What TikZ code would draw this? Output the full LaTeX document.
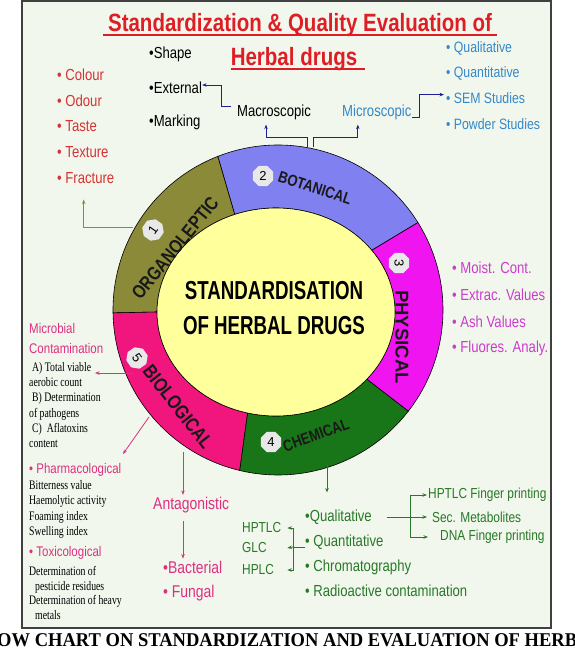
\documentclass[tikz,border=0pt]{standalone}
\usepackage{fontspec}
\setmainfont{Liberation Sans}
\newfontfamily\narrowsf[FakeStretch=0.82]{Liberation Sans}
\newfontfamily\condsf[FakeStretch=0.72]{Liberation Sans}
\newfontfamily\narrowrm[FakeStretch=0.75]{Liberation Serif}
\newfontfamily\capfont[FakeStretch=0.95]{Liberation Serif}
\usetikzlibrary{arrows.meta,shapes.geometric,positioning,calc}

\definecolor{paper}{RGB}{241,247,237}
\definecolor{titlered}{RGB}{222,30,36}
\definecolor{orgred}{RGB}{212,52,52}
\definecolor{microblue}{RGB}{52,136,200}
\definecolor{navyline}{RGB}{30,30,150}
\definecolor{physpink}{RGB}{204,60,204}
\definecolor{biopink}{RGB}{222,48,128}
\definecolor{chemgreen}{RGB}{40,120,40}
\definecolor{olivering}{RGB}{138,138,56}
\definecolor{bluering}{RGB}{128,128,240}
\definecolor{magring}{RGB}{240,20,240}
\definecolor{greenring}{RGB}{24,118,24}
\definecolor{pinkring}{RGB}{240,22,126}
\definecolor{coreyellow}{RGB}{255,255,155}
\definecolor{badgegray}{RGB}{232,232,232}

% one coloured piece of the ring: colour, outer start/end, inner start/end
\newcommand{\ringsector}[5]{%
  \filldraw[fill=#1, draw=black, line width=0.6pt]
    ($(O)+(#2:165)$) arc[start angle=#2, end angle=#3, radius=165]
    -- ($(I)+(#4:119 and 104)$) arc[start angle=#4, end angle=#5, x radius=119, y radius=104]
    -- cycle;}

\tikzset{
  lbl/.style={inner sep=0pt, anchor=west, font=\narrowsf\fontsize{16}{18}\selectfont},
  blacklbl/.style={lbl, text=black},
  redlbl/.style={lbl, text=orgred},
  bluelbl/.style={lbl, text=microblue, font=\narrowsf\fontsize{15}{18}\selectfont},
  physlbl/.style={lbl, text=physpink},
  pinklbl/.style={lbl, text=biopink, align=left, font=\narrowsf\fontsize{14}{20}\selectfont},
  pinkbig/.style={lbl, text=biopink, font=\narrowsf\fontsize{17}{20}\selectfont},
  greenlbl/.style={lbl, text=chemgreen},
  smallgreen/.style={lbl, text=chemgreen, font=\narrowsf\fontsize{14.5}{18}\selectfont},
  seriflbl/.style={inner sep=0pt, anchor=west, align=left, font=\narrowrm\fontsize{13}{15.3}\selectfont},
  titlelbl/.style={inner sep=0pt, anchor=base, text=titlered, font=\narrowsf\bfseries\fontsize{25}{28}\selectfont},
  ringlbl/.style={inner sep=0pt, text=black!90},
  badge/.style={regular polygon, regular polygon sides=8, fill=badgegray, inner sep=0pt,
                minimum size=22pt, font=\fontsize{13}{14}\selectfont},
  arr/.style={-{Stealth[length=4.5pt,width=3.5pt]}, line width=0.8pt},
  navyarr/.style={arr, draw=navyline},
  olivearr/.style={arr, draw=olivering},
  pinkarr/.style={arr, draw=biopink},
  greenarr/.style={arr, draw=chemgreen},
  greenline/.style={line width=0.8pt, draw=chemgreen}
}

\begin{document}
\begin{tikzpicture}[x=1pt,y=1pt]
\useasboundingbox (0,0) rectangle (574,-653);
\clip (0,0) rectangle (574,-653);
\fill[white] (0,0) rectangle (574,-653);
\draw[fill=paper, draw=black!75, line width=1.2pt] (22,-1) rectangle (551,-628);

% title
\node[titlelbl] (title1) at (300,-31) {Standardization \& Quality Evaluation of};
\node[titlelbl] (title2) at (294,-65) {Herbal drugs};
\draw[titlered, line width=1.6pt] ([xshift=-5pt,yshift=-4pt]title1.base west) -- ([xshift=5pt,yshift=-4pt]title1.base east);
\draw[titlered, line width=1.6pt] ([yshift=-4pt]title2.base west) -- ([xshift=8pt,yshift=-4pt]title2.base east);

% ring
\coordinate (O) at (278,-310);
\coordinate (I) at (276,-312);
\ringsector{bluering}{32}{111.4}{110.3}{36.4}
\ringsector{olivering}{111.4}{181}{180}{110.3}
\ringsector{pinkring}{181}{256.6}{256.2}{180}
\ringsector{greenring}{256.6}{322.2}{319.8}{256.2}
\ringsector{magring}{-37.8}{32}{36.4}{-40.2}
\filldraw[fill=coreyellow, draw=black, line width=0.6pt] (I) ellipse[x radius=119, y radius=104];

\node[align=center, font=\condsf\bfseries\fontsize{26}{35}\selectfont] (core) at (274,-308)
  {STANDARDISATION\\OF HERBAL DRUGS};

\node[ringlbl, rotate=51, font=\narrowsf\bfseries\fontsize{19}{20}\selectfont] (lblorg) at (175,-248) {ORGANOLEPTIC};
\node[ringlbl, rotate=-18, font=\narrowsf\bfseries\fontsize{16}{20}\selectfont] (lblbot) at (315,-188) {BOTANICAL};
\node[ringlbl, rotate=-90, font=\bfseries\fontsize{18.5}{20}\selectfont] (lblphy) at (402,-337) {PHYSICAL};
\node[ringlbl, rotate=20, font=\narrowsf\bfseries\fontsize{16}{20}\selectfont] (lblchem) at (316,-435) {CHEMICAL};
\node[ringlbl, rotate=-52, font=\narrowsf\bfseries\fontsize{19.5}{20}\selectfont] (lblbio) at (178,-407) {BIOLOGICAL};

\node[badge, rotate=55] (b1) at (153,-230) {1};
\node[badge] (b2) at (263,-176) {2};
\node[badge, rotate=-90] (b3) at (399,-263) {3};
\node[badge] (b4) at (271,-442) {4};
\node[badge, rotate=-55] (b5) at (137,-358) {5};

% botanical
\foreach \t/\n [count=\i] in {Shape/shape, External/external, Marking/marking}
  \node[blacklbl] (\n) at (149,{-54-34*(\i-1)}) {•\t};
\node[blacklbl] (macro) at (237,-112) {Macroscopic};
\node[bluelbl, font=\narrowsf\fontsize{16}{18}\selectfont] (micro) at (342,-112) {Microscopic};
\foreach \t/\n [count=\i] in {Qualitative/qual, Quantitative/quant, SEM Studies/sem, Powder Studies/powder}
  \node[bluelbl] (mic\n) at (446,{-48-25.3*(\i-1)}) {• \t};

\coordinate (botL) at (307,-147);
\coordinate (botR) at (313,-147);
\draw[navyarr] (botL) -- ++(0,10) -| ([xshift=-8pt,yshift=-5pt]macro.south);
\draw[navyarr] (botR) -- ++(0,10) -| ([xshift=-19pt,yshift=-5pt]micro.south);
\draw[navyarr] ([xshift=-6pt,yshift=6pt]macro.west) -- ++(-10,0) |- ([yshift=3pt]external.east);
\draw[navyarr] ([yshift=-5pt]micro.east) -- ++(8,0) |- ([xshift=-2pt,yshift=4pt]micsem.west);

% organoleptic
\foreach \t [count=\i] in {Colour, Odour, Taste, Texture, Fracture}
  \node[redlbl] (org\i) at (57,{-75-25.7*(\i-1)}) {• \t};
\coordinate (orgfoot) at (133,-227);
\draw[olivearr] (orgfoot) -| ([xshift=-2pt,yshift=-16pt]org5.south);

% physical
\foreach \t [count=\i] in {Moist. Cont., Extrac. Values, Ash Values, Fluores. Analy.}
  \node[physlbl] (phy\i) at (452,{-268-26.7*(\i-1)}) {• \t};

% biological
\node[pinklbl] (microbial) at (29,-338) {Microbial\\Contamination};
\node[seriflbl] (microlist) at (29,-405) {\hspace*{3pt}A) Total viable\\aerobic count\\\hspace*{3pt}B) Determination\\of pathogens\\\hspace*{3pt}C)\ \ Aflatoxins\\content};
\node[pinklbl] (pharm) at (29,-470) {• Pharmacological};
\node[seriflbl] (pharmlist) at (29,-509.5) {Bitterness value\\Haemolytic activity\\Foaming index\\Swelling index};
\node[pinklbl] (toxic) at (29,-553) {• Toxicological};
\node[seriflbl, font=\narrowrm\fontsize{13}{14.7}\selectfont] (toxlist) at (29,-593) {Determination of\\\hspace*{6pt}pesticide residues\\Determination of heavy\\\hspace*{6pt}metals};
\node[pinkbig] (antag) at (153,-505) {Antagonistic};
\node[pinkbig] (bact) at (163,-567) {•Bacterial};
\node[pinkbig] (fungal) at (163,-593) {• Fungal};

\coordinate (bioA) at (134,-373);
\coordinate (bioAend) at (95,-373);
\coordinate (bioB) at (149,-417);
\coordinate (bioBend) at (123,-454);
\coordinate (bioC) at (183,-452);
\draw[pinkarr] (bioA) -- (bioAend);
\draw[pinkarr] (bioB) -- (bioBend);
\draw[pinkarr, shorten >=2pt] (bioC) -- (bioC |- antag.north);
\draw[pinkarr, shorten <=8pt, shorten >=2pt] (bioC |- antag.south) -- (bioC |- bact.north);

% chemical
\node[greenlbl] (cqual) at (305,-517) {•Qualitative};
\node[greenlbl] (cquant) at (305,-542) {• Quantitative};
\node[greenlbl] (chroma) at (305,-567) {• Chromatography};
\node[greenlbl] (radio) at (305,-591) {• Radioactive contamination};
\node[smallgreen] (hptlc) at (242,-528) {HPTLC};
\node[smallgreen] (glc) at (242,-548) {GLC};
\node[smallgreen] (hplc) at (242,-570) {HPLC};
\node[smallgreen] (hptlcfp) at (428,-495) {HPTLC Finger printing};
\node[smallgreen] (secmet) at (432,-517) {Sec. Metabolites};
\node[smallgreen] (dnafp) at (440,-537) {DNA Finger printing};

\coordinate (chemfoot) at (327,-463);
\draw[greenarr, shorten >=17pt] (chemfoot) -- (chemfoot |- cqual.north);
\path ([xshift=6pt]hptlc.east) coordinate (chemtip);
\draw[greenarr] ([yshift=-5pt]cquant.west) -- ++(-12,0) coordinate (lbr) |- (chemtip);
\draw[greenarr] (lbr) -- (chemtip |- glc.west);
\draw[greenarr] (lbr) |- (chemtip |- hplc.west);
\coordinate (rbr) at (410,-517);
\draw[greenline] ([xshift=15pt]cqual.east) -- (rbr);
\draw[greenarr] (rbr) |- ([xshift=-1pt]hptlcfp.west);
\draw[greenarr] (rbr) -- ([xshift=-5pt]secmet.west);
\draw[greenarr] (rbr) |- ([xshift=-12pt]dnafp.west);

% caption
\node[inner sep=0pt, anchor=base west, font=\capfont\bfseries\fontsize{19.5}{22}\selectfont] (caption) at (-3,-646)
  {\llap{FL}OW CHART ON STANDARDIZATION AND EVALUATION OF HERBAL DRUGS};
\end{tikzpicture}
\end{document}
